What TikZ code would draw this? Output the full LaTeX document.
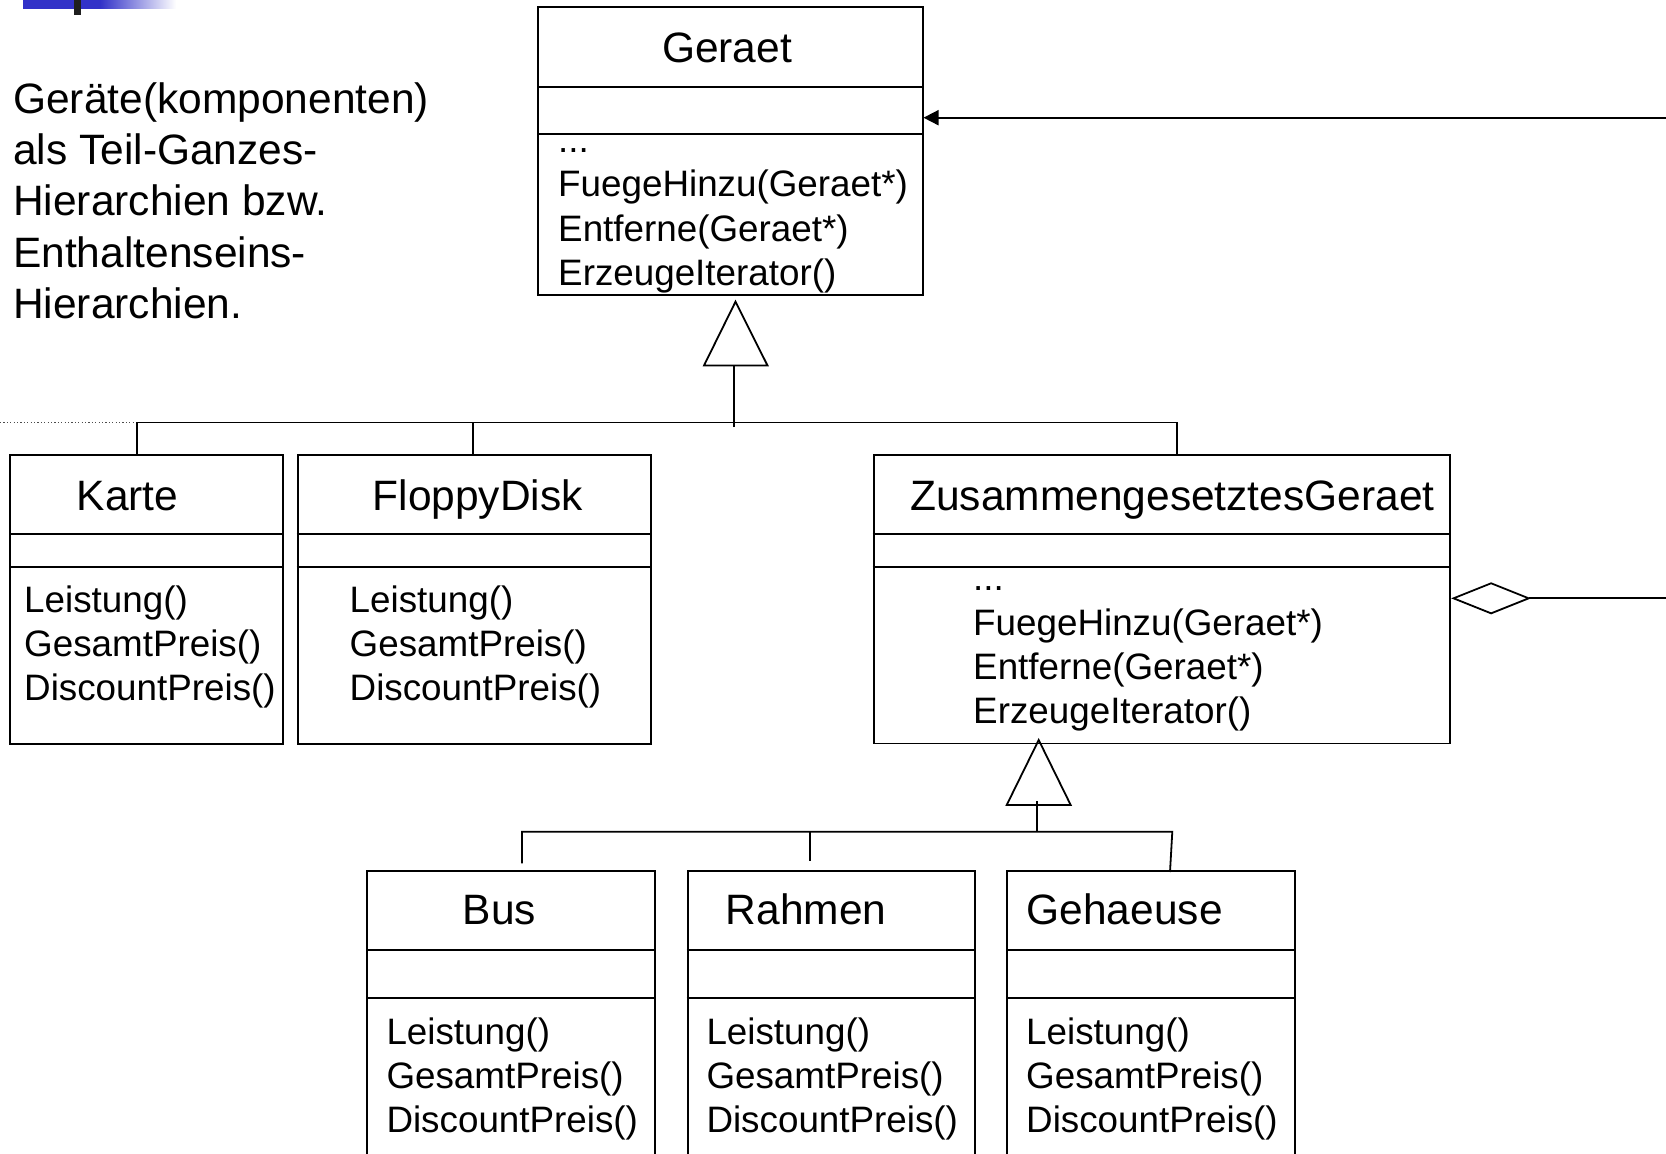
\documentclass[tikz,border=0pt]{standalone}
\usepackage{fontspec}
\setmainfont{Liberation Sans}
\usetikzlibrary{arrows.meta,calc}
\definecolor{barblue}{RGB}{50,50,200}
\definecolor{ink}{RGB}{0,0,0}

\tikzset{
  cls/.style={draw=ink, line width=1.8pt, rectangle, inner sep=0pt, anchor=north west},
  ttl/.style={font=\fontsize{42.5}{51}\selectfont, inner sep=0pt, anchor=base},
  op/.style={font=\fontsize{36.8}{44.3}\selectfont, inner sep=0pt, anchor=base west},
  note/.style={font=\fontsize{42.5}{51}\selectfont, inner sep=0pt, anchor=base west},
  wire/.style={draw=ink, line width=1.8pt},
  gentri/.style={draw=ink, line width=1.8pt, line join=miter},
  dots/.style={draw=black!70, line width=1pt, dash pattern=on 1.2pt off 2.2pt},
}

% class box: name, x1, y1, x2, y2, first divider, second divider
\newcommand\umlbox[7]{%
  \node[cls, minimum width={(#4-#2)*1pt}, minimum height={(#5-#3)*1pt}] (#1) at (#2,#3) {};
  \draw[wire] (#2,#6) -- (#4,#6) (#2,#7) -- (#4,#7);
}
% operation list: prefix, x, first baseline, entries
\newcommand\oplist[4]{%
  \foreach \t [count=\i] in {#4}
    \node[op] (#1-op\i) at (#2,{#3+(\i-1)*44.3}) {\t};
}
\newcommand\ellip{.{}.{}.}

\begin{document}
\begin{tikzpicture}[x=1pt,y=-1pt]
\useasboundingbox (0,0) rectangle (1666,1154);

% header bar
\fill[barblue] (22.7,0) rectangle (100,8.7);
\shade[left color=barblue,right color=white] (100,0) rectangle (176,8.7);
\fill[black!88] (74,0) rectangle (81,14.7);

% explanatory text
\foreach \t [count=\i] in {Geräte(komponenten),als Teil-Ganzes-,Hierarchien bzw.,Enthaltenseins-,Hierarchien.}
  \node[note] (intro\i) at (13,{113.3+(\i-1)*51.3}) {\t};

% classes
\umlbox{geraet}{537}{6}{921.7}{294.3}{86.7}{134.3}
\node[ttl] (geraet-t) at (727,62.4) {Geraet};
\oplist{geraet}{558}{152.5}{\ellip,FuegeHinzu(Geraet*),Entferne(Geraet*),ErzeugeIterator()}

\umlbox{karte}{9}{454.3}{281.7}{742.7}{534.3}{566.7}
\node[ttl] (karte-t) at (127.5,510.7) {Karte};
\oplist{karte}{24}{612.3}{Leistung(),GesamtPreis(),DiscountPreis()}

\umlbox{floppy}{296.7}{454.3}{650}{742.7}{534.3}{566.7}
\node[ttl] (floppy-t) at (477.8,510.7) {FloppyDisk};
\oplist{floppy}{349.5}{612.3}{Leistung(),GesamtPreis(),DiscountPreis()}

\umlbox{zus}{872.7}{454.3}{1449.3}{742.5}{534.3}{566.7}
\node[ttl] (zus-t) at (1172.4,510.7) {ZusammengesetztesGeraet};
\oplist{zus}{973}{590.7}{\ellip,FuegeHinzu(Geraet*),Entferne(Geraet*),ErzeugeIterator()}

\umlbox{bus}{366}{870}{654.3}{1180}{950}{997.7}
\node[ttl] (bus-t) at (499.3,924) {Bus};
\oplist{bus}{386.3}{1044.3}{Leistung(),GesamtPreis(),DiscountPreis()}

\umlbox{rahmen}{686.7}{870}{974.2}{1180}{950}{997.7}
\node[ttl] (rahmen-t) at (806,924) {Rahmen};
\oplist{rahmen}{706.3}{1044.3}{Leistung(),GesamtPreis(),DiscountPreis()}

\umlbox{gehaeuse}{1006}{870}{1294.3}{1180}{950}{997.7}
\node[ttl, anchor=base west] (gehaeuse-t) at (1026.4,924) {Gehaeuse};
\oplist{gehaeuse}{1026}{1044.3}{Leistung(),GesamtPreis(),DiscountPreis()}

% generalisation Karte / FloppyDisk / ZusammengesetztesGeraet -> Geraet
\coordinate (edgeL) at (0,422.5);
\coordinate (hubL) at (137,422.5);
\coordinate (hubF) at (473.3,422.5);
\coordinate (hubR) at (1177.3,422.5);
\coordinate (stem1) at (734,427);
\coordinate (tri1A) at (735.5,301.7);
\coordinate (tri1L) at (704,365.5);
\coordinate (tri1R) at (767.5,365.5);
\draw[dots] (edgeL) -- (hubL);
\draw[wire] (karte.north -| hubL) -- (hubL) -- (hubR) -- (hubR |- zus.north);
\draw[wire] (hubF) -- (hubF |- floppy.north);
\draw[wire] (stem1) -- (stem1 |- tri1L);
\draw[gentri] (tri1A) -- (tri1L) -- (tri1R) -- cycle;

% generalisation Bus / Rahmen / Gehaeuse -> ZusammengesetztesGeraet
\coordinate (hubB) at (522,831.7);
\coordinate (hubM) at (809.7,831.7);
\coordinate (hubG) at (1172.3,831.7);
\coordinate (busTop) at (522,863.3);
\coordinate (rahmenTop) at (809.7,861);
\coordinate (gehTop) at (1170,872);
\coordinate (stem2) at (1036.7,831.7);
\coordinate (tri2A) at (1038.7,740);
\coordinate (tri2L) at (1006.7,805);
\coordinate (tri2R) at (1070.7,805);
\draw[wire] (busTop) -- (hubB) -- (hubG) -- (gehTop);
\draw[wire] (hubM) -- (rahmenTop);
\draw[wire] (stem2) -- (1036.7,801);
\draw[gentri] (tri2A) -- (tri2L) -- (tri2R) -- cycle;

% association into Geraet and aggregation from ZusammengesetztesGeraet
\coordinate (edgeR1) at (1666,117.7);
\coordinate (edgeR2) at (1666,598.3);
\draw[wire, -{Triangle[length=15pt,width=15pt]}] (edgeR1) -- (edgeR1 -| geraet.east);
\draw[wire, -{Diamond[open,length=80pt,width=32pt]}] (edgeR2) -- (edgeR2 -| zus.east);
\end{tikzpicture}
\end{document}
